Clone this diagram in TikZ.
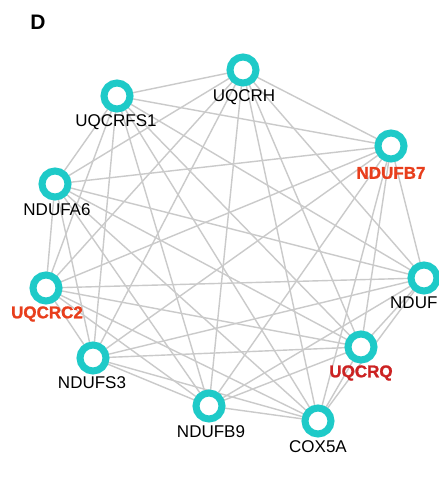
\documentclass[tikz,border=0pt]{standalone}
\usepackage{fontspec}
\setmainfont{Liberation Sans}
\newfontfamily\heavyfont{Liberation Sans}[UprightFont={* Bold},UprightFeatures={FakeBold=1.2}]
\definecolor{ringc}{RGB}{30,202,200}
\definecolor{edgec}{RGB}{202,202,202}
\definecolor{hired}{RGB}{232,62,28}
\definecolor{darkred}{RGB}{204,34,34}
\begin{document}
\begin{tikzpicture}[x=1pt,y=-1pt,
  edge/.style={draw=edgec,line width=1.4pt},
  ring/.style={circle,draw=ringc,fill=white,line width=7pt,minimum size=26pt,inner sep=0pt},
  lab/.style={font=\fontsize{17}{20}\selectfont,text=black,inner sep=0pt},
  hlab/.style={font=\fontsize{17}{20}\selectfont\heavyfont,text=hired,inner sep=0pt},
  qlab/.style={font=\fontsize{17}{20}\selectfont\heavyfont,text=darkred,inner sep=0pt}]
\useasboundingbox (0,0) rectangle (438,502);
\fill[white] (0,0) rectangle (438,502);
\node[font=\fontsize{21}{24}\selectfont\bfseries,inner sep=0pt] (title) at (38,22) {D};
% node centres
\coordinate (n1) at (243,70);   % UQCRH
\coordinate (n2) at (391,146);  % NDUFB7
\coordinate (n3) at (424,278);  % NDUF
\coordinate (n4) at (361,347);  % UQCRQ
\coordinate (n5) at (318,421);  % COX5A
\coordinate (n6) at (209,406);  % NDUFB9
\coordinate (n7) at (93,358);   % NDUFS3
\coordinate (n8) at (46,288);   % UQCRC2
\coordinate (n9) at (55,184);   % NDUFA6
\coordinate (n10) at (117,96);  % UQCRFS1
% edges
\foreach \i in {1,...,9}{
  \pgfmathtruncatemacro\s{\i+1}
  \foreach \j in {\s,...,10}{
    \draw[edge] (n\i) -- (n\j);
  }
}
% rings
\foreach \i in {1,...,10}{
  \node[ring] (r\i) at (n\i) {};
}
% labels
\node[lab]  (l1)  at (244,97)  {UQCRH};
\node[hlab] (l2)  at (391,173) {NDUFB7};
\node[lab,anchor=west] (l3) at (390,303) {NDUF};
\node[qlab] (l4)  at (361,373) {UQCRQ};
\node[lab]  (l5)  at (318,447) {COX5A};
\node[lab]  (l6)  at (211,432) {NDUFB9};
\node[lab]  (l7)  at (92,383)  {NDUFS3};
\node[hlab] (l8)  at (47,314)  {UQCRC2};
\node[lab]  (l9)  at (57,210)  {NDUFA6};
\node[lab]  (l10) at (116,122) {UQCRFS1};
\end{tikzpicture}
\end{document}
